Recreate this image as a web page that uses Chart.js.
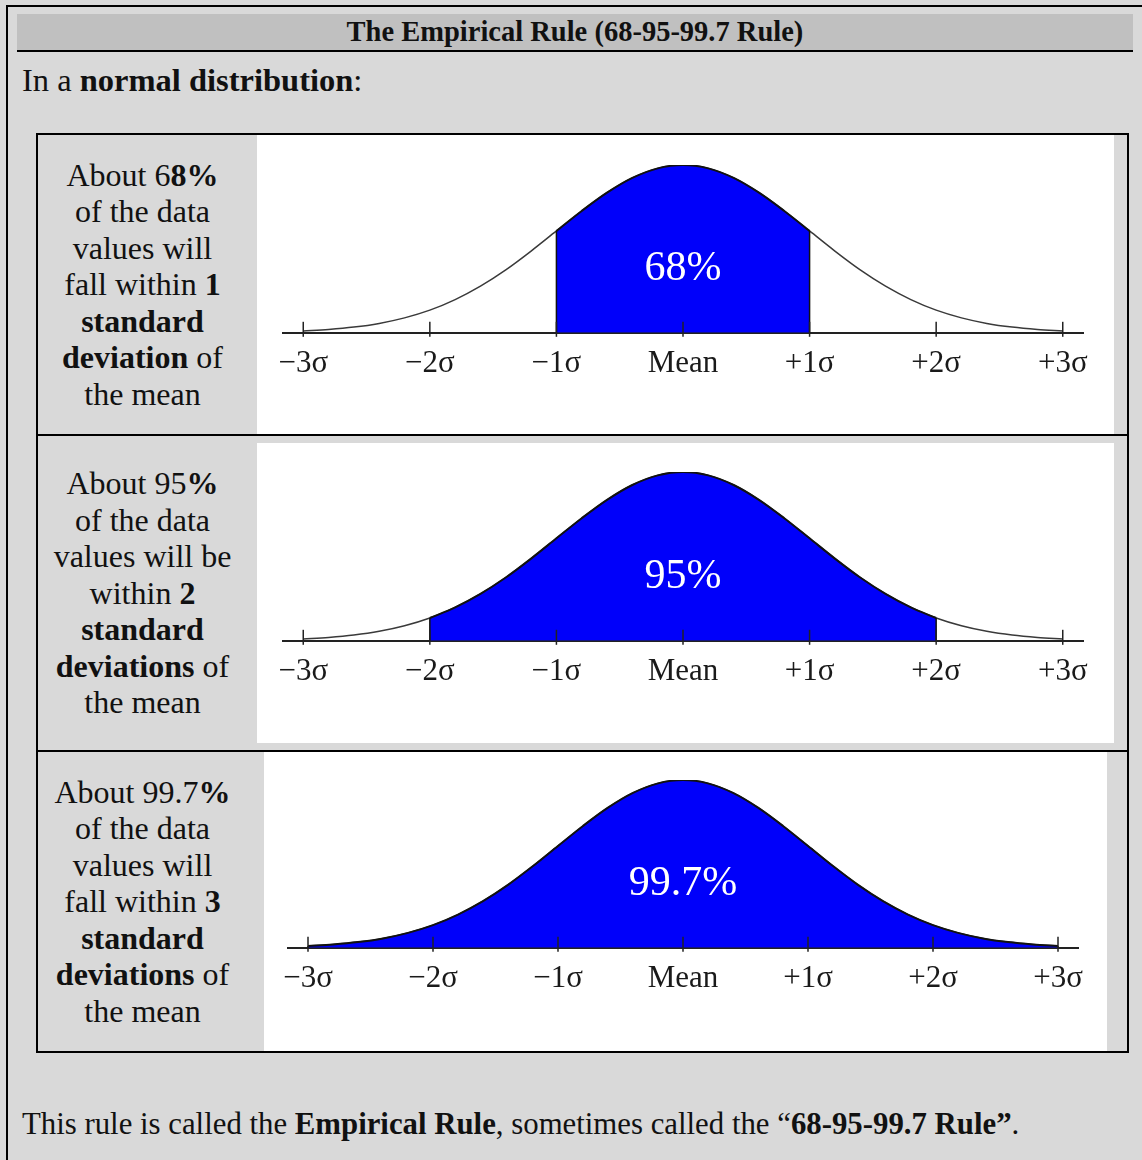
<!DOCTYPE html>
<html>
<head>
<meta charset="utf-8">
<script src="https://cdn.jsdelivr.net/npm/chart.js@4"></script>
<style>
  html, body { margin: 0; padding: 0; }
  body {
    width: 1142px; height: 1160px; overflow: hidden; position: relative;
    background: #d9d9d9; color: #111;
    font-family: "Liberation Serif", "Times New Roman", serif;
  }
  .abs { position: absolute; }
  #frame { left: 6px; top: 5px; width: 1300px; height: 1300px; border-top: 2px solid #000; border-left: 2px solid #000; }
  #titleBand { left: 17px; top: 14px; width: 1116px; height: 36px; background: #c0c0c0; border-bottom: 2px solid #000;
    text-align: center; font-weight: bold; font-size: 28.5px; line-height: 36px; }
  #intro { left: 22px; top: 62px; font-size: 32.5px; line-height: 36px; white-space: nowrap; }
  #outro { left: 22px; top: 1106px; font-size: 30.8px; line-height: 36px; white-space: nowrap; }
  #table { left: 36px; top: 133px; width: 1089px; height: 916px; border: 2px solid #000; }
  .divider { left: 36px; width: 1093px; height: 2px; background: #000; }
  .cell { left: 38px; width: 219px; display: flex; align-items: center; justify-content: center;
    text-align: center; font-size: 32px; line-height: 36.5px; padding-right: 10px; box-sizing: border-box; }
  .plot { background: #fff; }
  canvas { display: block; }
</style>
</head>
<body>
<div id="frame" class="abs"></div>
<div id="titleBand" class="abs">The Empirical Rule (68-95-99.7 Rule)</div>
<div id="intro" class="abs">In a <b>normal distribution</b>:</div>

<div id="table" class="abs"></div>
<div class="abs divider" style="top:434px"></div>
<div class="abs divider" style="top:750px"></div>

<div class="abs cell" style="top:135px;height:299px">
  <div>About 6<b>8%</b><br>of the data<br>values will<br>fall within <b>1</b><br><b>standard</b><br><b>deviation</b> of<br>the mean</div>
</div>
<div class="abs cell" style="top:436px;height:314px">
  <div>About 95<b>%</b><br>of the data<br>values will be<br>within <b>2</b><br><b>standard</b><br><b>deviations</b> of<br>the mean</div>
</div>
<div class="abs cell" style="top:752px;height:299px">
  <div>About 99.7<b>%</b><br>of the data<br>values will<br>fall within <b>3</b><br><b>standard</b><br><b>deviations</b> of<br>the mean</div>
</div>

<div class="abs plot" style="left:257px;top:135px;width:857px;height:299px"><canvas id="chart1" width="857" height="299"></canvas></div>
<div class="abs plot" style="left:257px;top:443px;width:857px;height:300px"><canvas id="chart2" width="857" height="300"></canvas></div>
<div class="abs plot" style="left:264px;top:752px;width:843px;height:299px"><canvas id="chart3" width="843" height="299"></canvas></div>

<div id="outro" class="abs">This rule is called the <b>Empirical Rule</b>, sometimes called the “<b>68-95-99.7 Rule”</b>.</div>

<script>
// positions along the axis, in standard deviations
const sigmaX = [-3, -2.8, -2.6, -2.4, -2.2, -2, -1.8, -1.6, -1.4, -1.2, -1, -0.8, -0.6, -0.4, -0.2, 0,
                0.2, 0.4, 0.6, 0.8, 1, 1.2, 1.4, 1.6, 1.8, 2, 2.2, 2.4, 2.6, 2.8, 3];
// curve height, % of the peak
const curveHeight = [1.1, 2.0, 3.4, 5.6, 8.9, 13.5, 19.8, 27.8, 37.5, 48.7, 60.7, 72.6, 83.5, 92.3, 98.0, 100,
                     98.0, 92.3, 83.5, 72.6, 60.7, 48.7, 37.5, 27.8, 19.8, 13.5, 8.9, 5.6, 3.4, 2.0, 1.1];
const tickValues = [-3, -2, -1, 0, 1, 2, 3];
const tickLabels = ["−3σ", "−2σ", "−1σ", "Mean", "+1σ", "+2σ", "+3σ"];
const shadedWithin = [1, 2, 3];
const percentLabels = ["68%", "95%", "99.7%"];
const percentLabelLevel = 38;

const serif = "'Liberation Serif', 'Times New Roman', serif";

// tick marks across the axis, edges of the shaded area, and the % text
const bellExtras = {
  id: "bellExtras",
  afterDatasetsDraw(chart, args, opts) {
    const ctx = chart.ctx;
    const xs = chart.scales.x, ys = chart.scales.y;
    const axisY = ys.getPixelForValue(0);
    ctx.save();

    const shaded = chart.getDatasetMeta(1).data.filter(p => !p.skip);
    ctx.strokeStyle = "#111";
    ctx.lineWidth = 1.5;
    [shaded[0], shaded[shaded.length - 1]].forEach(p => {
      ctx.beginPath();
      ctx.moveTo(p.x, p.y);
      ctx.lineTo(p.x, axisY);
      ctx.stroke();
    });

    ctx.strokeStyle = "#222";
    ctx.lineWidth = 1.5;
    xs.ticks.forEach(t => {
      const x = xs.getPixelForValue(t.value);
      ctx.beginPath();
      ctx.moveTo(x, axisY - 11);
      ctx.lineTo(x, axisY + 4);
      ctx.stroke();
    });

    ctx.fillStyle = "#fff";
    ctx.font = "42px " + serif;
    ctx.textAlign = "center";
    ctx.textBaseline = "middle";
    ctx.fillText(opts.text, xs.getPixelForValue(0), ys.getPixelForValue(percentLabelLevel));
    ctx.restore();
  }
};

function bellChart(canvasId, row, pad) {
  const k = shadedWithin[row];
  const outline = sigmaX.map((x, i) => ({x: x, y: curveHeight[i]}));
  const shaded = sigmaX.map((x, i) => ({x: x, y: Math.abs(x) <= k + 1e-9 ? curveHeight[i] : null}));

  const config = {
    type: "line",
    data: {
      datasets: [
        {
          data: outline,
          borderColor: "#3a3a3a",
          borderWidth: 1.5,
          fill: false,
          pointRadius: 0,
          cubicInterpolationMode: "monotone",
          order: 2
        },
        {
          data: shaded,
          borderColor: "#111",
          borderWidth: 2,
          backgroundColor: "#0000fa",
          fill: "origin",
          pointRadius: 0,
          spanGaps: false,
          cubicInterpolationMode: "monotone",
          order: 1
        }
      ]
    },
    options: {
      responsive: false,
      animation: false,
      layout: {padding: pad},
      scales: {
        x: {
          type: "linear",
          min: -3.16,
          max: 3.16,
          afterBuildTicks: s => { s.ticks = tickValues.map(v => ({value: v})); },
          grid: {display: false, drawTicks: false},
          border: {display: true, color: "#222", width: 2},
          ticks: {
            padding: 12,
            color: "#1a1a1a",
            maxRotation: 0,
            autoSkip: false,
            font: {family: serif, size: 31, lineHeight: 1.2},
            callback: (v, i) => tickLabels[i]
          }
        },
        y: {display: false, min: 0, max: 100}
      },
      plugins: {
        legend: {display: false},
        tooltip: {enabled: false},
        bellExtras: {text: percentLabels[row]}
      }
    },
    plugins: [bellExtras]
  };

  return new Chart(document.getElementById(canvasId), config);
}

bellChart("chart1", 0, {left: 26, right: 31, top: 30, bottom: 40});
bellChart("chart2", 1, {left: 26, right: 31, top: 29, bottom: 41});
bellChart("chart3", 2, {left: 24, right: 29, top: 28, bottom: 42});
</script>
</body>
</html>
